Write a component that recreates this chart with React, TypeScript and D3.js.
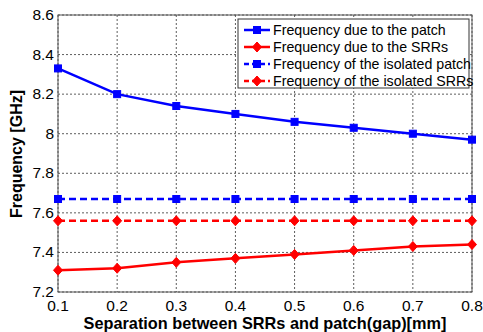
import React from "react";
import * as d3 from "d3";

const gaps = [0.1, 0.2, 0.3, 0.4, 0.5, 0.6, 0.7, 0.8];
const patchFreq = [8.33, 8.2, 8.14, 8.1, 8.06, 8.03, 8.0, 7.97];
const srrFreq = [7.31, 7.32, 7.35, 7.37, 7.39, 7.41, 7.43, 7.44];
const isolatedPatchFreq = [7.67, 7.67, 7.67, 7.67, 7.67, 7.67, 7.67, 7.67];
const isolatedSrrFreq = [7.56, 7.56, 7.56, 7.56, 7.56, 7.56, 7.56, 7.56];
const xTicks = ["0.1", "0.2", "0.3", "0.4", "0.5", "0.6", "0.7", "0.8"];
const yTicks = ["7.2", "7.4", "7.6", "7.8", "8", "8.2", "8.4", "8.6"];
const legendLabels = [
  "Frequency due to the patch",
  "Frequency due to the SRRs",
  "Frequency of the isolated patch",
  "Frequency of the isolated SRRs",
];

const W = 483;
const H = 332;
const M = { left: 58, right: 11, top: 15, bottom: 40 };
const FONT = "'Liberation Sans', Arial, sans-serif";

export default function App() {
  const x = d3.scaleLinear().domain([0.1, 0.8]).range([M.left, W - M.right]);
  const y = d3.scaleLinear().domain([7.2, 8.6]).range([H - M.bottom, M.top]);

  const series = [
    { values: patchFreq, color: "#0000ff", dash: null, marker: "square" },
    { values: srrFreq, color: "#ff0000", dash: null, marker: "diamond" },
    { values: isolatedPatchFreq, color: "#0000ff", dash: "7,4", marker: "square" },
    { values: isolatedSrrFreq, color: "#ff0000", dash: "7,4", marker: "diamond" },
  ];

  const line = d3
    .line<number>()
    .x((_, i) => x(gaps[i]))
    .y((d) => y(d));

  const marker = (kind: string, cx: number, cy: number, color: string, key: string) =>
    kind === "square" ? (
      <rect key={key} x={cx - 3.5} y={cy - 3.5} width={7} height={7} fill={color} stroke={color} strokeWidth={1} />
    ) : (
      <path
        key={key}
        d={`M${cx},${cy - 5}L${cx + 4.5},${cy}L${cx},${cy + 5}L${cx - 4.5},${cy}Z`}
        fill={color}
        stroke={color}
        strokeWidth={1}
      />
    );

  const x0 = M.left;
  const x1 = W - M.right;
  const y0 = M.top;
  const y1 = H - M.bottom;

  const legX = 238;
  const legY = 19;
  const legW = 231;
  const legH = 69;
  const rowH = 17;

  return (
    <svg width={W} height={H} style={{ position: "absolute", left: 0, top: 0, background: "#fff" }}>
      <rect x={0} y={0} width={W} height={H} fill="#fff" />
      {/* grid */}
      {xTicks.map((t, i) => (
        <line key={"gx" + i} x1={x(+t)} x2={x(+t)} y1={y0} y2={y1} stroke="#333" strokeWidth={0.8} strokeDasharray="2,2" />
      ))}
      {yTicks.map((t, i) => (
        <line key={"gy" + i} x1={x0} x2={x1} y1={y(+t)} y2={y(+t)} stroke="#333" strokeWidth={0.8} strokeDasharray="2,2" />
      ))}
      {/* axes box */}
      <rect x={x0} y={y0} width={x1 - x0} height={y1 - y0} fill="none" stroke="#555" strokeWidth={1} />
      {/* tick labels */}
      {xTicks.map((t, i) => (
        <text key={"tx" + i} x={x(+t)} y={y1 + 19} fontSize={15.5} fontFamily={FONT} textAnchor="middle" fill="#000">
          {t}
        </text>
      ))}
      {yTicks.map((t, i) => (
        <text key={"ty" + i} x={x0 - 4} y={y(+t) + 5} fontSize={15.5} fontFamily={FONT} textAnchor="end" fill="#000">
          {t}
        </text>
      ))}
      {/* axis titles */}
      <text x={265} y={329} fontSize={16.3} fontWeight="bold" fontFamily={FONT} textAnchor="middle">
        Separation between SRRs and patch(gap)[mm]
      </text>
      <text
        transform={`translate(22,154) rotate(-90)`}
        fontSize={16}
        fontWeight="bold"
        fontFamily={FONT}
        textAnchor="middle"
      >
        Frequency [GHz]
      </text>
      {/* series */}
      {series.map((s, si) => (
        <g key={"s" + si}>
          <path d={line(s.values) || ""} fill="none" stroke={s.color} strokeWidth={2.5} strokeDasharray={s.dash || undefined} />
          {s.values.map((v, i) => marker(s.marker, x(gaps[i]), y(v), s.color, `m${si}-${i}`))}
        </g>
      ))}
      {/* legend */}
      <rect x={legX} y={legY} width={legW} height={legH} fill="#fff" stroke="#333" strokeWidth={1} />
      {series.map((s, i) => {
        const cy = legY + 11 + i * rowH;
        return (
          <g key={"l" + i}>
            <line x1={legX + 6} x2={legX + 32} y1={cy} y2={cy} stroke={s.color} strokeWidth={2.5} strokeDasharray={s.dash ? "5,3" : undefined} />
            {marker(s.marker, legX + 19, cy, s.color, "lm" + i)}
            <text x={legX + 35} y={cy + 5} fontSize={14.2} fontFamily={FONT} fill="#000">
              {legendLabels[i]}
            </text>
          </g>
        );
      })}
    </svg>
  );
}
